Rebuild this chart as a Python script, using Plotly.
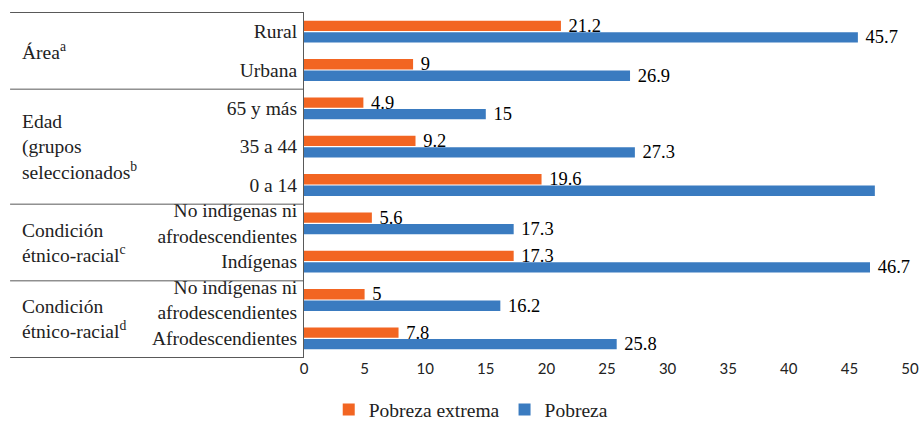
import plotly.graph_objects as go

# ---- datos ----
categorias = ["Rural", "Urbana", "65 y más", "35 a 44", "0 a 14",
              "No indígenas ni<br>afrodescendientes", "Indígenas",
              "No indígenas ni<br>afrodescendientes", "Afrodescendientes"]
grupos = ["Área<sup>a</sup>",
          "Edad<br>(grupos<br>seleccionados<sup>b</sup>",
          "Condición<br>étnico-racial<sup>c</sup>",
          "Condición<br>étnico-racial<sup>d</sup>"]
tam_grupos = [2, 3, 2, 2]
pobreza_extrema = [21.2, 9, 4.9, 9.2, 19.6, 5.6, 17.3, 5, 7.8]
pobreza = [45.7, 26.9, 15, 27.3, 47.1, 17.3, 46.7, 16.2, 25.8]
pobreza_texto = ["45.7", "26.9", "15", "27.3", "", "17.3", "46.7", "16.2", "25.8"]
ticks_x = [0, 5, 10, 15, 20, 25, 30, 35, 40, 45, 50]

NARANJA = "#F26522"
AZUL = "#3A7BC0"
LINEA = "#595959"
SERIF = "Liberation Serif"

pos = list(range(len(categorias)))

fig = go.Figure()
fig.add_trace(go.Bar(
    y=pos, x=pobreza_extrema, orientation="h", name="Pobreza extrema",
    marker=dict(color=NARANJA, line=dict(width=0)),
    text=[f" {v:g}" for v in pobreza_extrema], textposition="outside",
    constraintext="none",
    textfont=dict(family=SERIF, size=18.5, color="black"), cliponaxis=False,
))
fig.add_trace(go.Bar(
    y=pos, x=pobreza, orientation="h", name="Pobreza",
    marker=dict(color=AZUL, line=dict(width=0)),
    text=[" " + t if t else "" for t in pobreza_texto],
    textposition="outside", constraintext="none",
    textfont=dict(family=SERIF, size=18.5, color="black"), cliponaxis=False,
))

# ---- tabla de la izquierda: líneas y etiquetas de grupo ----
x_izq = -0.485
limites = [-0.5]
for n in tam_grupos:
    limites.append(limites[-1] + n)
for yb in limites:
    fig.add_shape(type="line", xref="paper", yref="y", x0=x_izq, x1=0,
                  y0=yb, y1=yb, line=dict(color=LINEA, width=1))
for i, g in enumerate(grupos):
    centro = (limites[i] + limites[i + 1]) / 2
    fig.add_annotation(text=g, xref="paper", yref="y", x=-0.469, y=centro,
                       xanchor="left", yanchor="middle", showarrow=False,
                       align="left", font=dict(family=SERIF, size=19.5, color="#222"))

fig.update_yaxes(
    tickvals=pos, ticktext=categorias, autorange="reversed", automargin=False,
    showline=True, linecolor=LINEA, linewidth=1, showgrid=False, zeroline=False,
    ticks="", ticklabelstandoff=2,
    tickfont=dict(family=SERIF, size=19.5, color="#222"),
)
fig.update_xaxes(
    range=[0, 50], tickvals=ticks_x, showgrid=False, zeroline=False,
    showline=False, automargin=False,
    tickfont=dict(family="Lato", size=15, color="#222"),
)

fig.update_layout(
    width=923, height=426,
    margin=dict(l=304, r=13, t=12, b=68),
    barmode="group", bargap=0.4, bargroupgap=0.1,
    plot_bgcolor="white", paper_bgcolor="white",
    showlegend=True,
    legend=dict(orientation="h", xref="container", yref="container",
                x=0.51, xanchor="center", y=0.038, yanchor="middle",
                font=dict(family=SERIF, size=19.5, color="#222"),
                itemwidth=30, traceorder="normal"),
)

# quitar el margen del <body> para que la figura ocupe toda la ventana
fig.write_html("out.html", config={"displayModeBar": False},
               post_script="document.body.style.margin='0';")
